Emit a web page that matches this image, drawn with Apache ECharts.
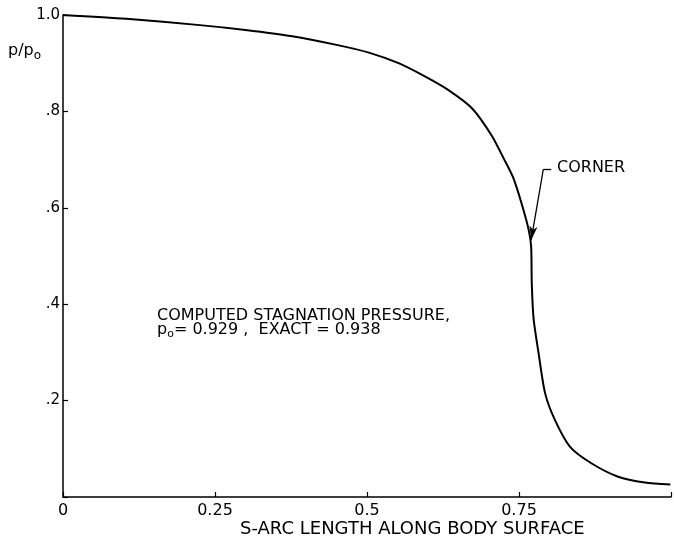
<!DOCTYPE html>
<html>
<head>
<meta charset="utf-8">
<script src="https://cdn.jsdelivr.net/npm/echarts@6/dist/echarts.min.js"></script>
<style>html,body{margin:0;padding:0;background:#fff;}#c{width:674px;height:546px;}</style>
</head>
<body>
<div id="c"></div>
<script>
// Data
const sArc = [0, 0.104, 0.225, 0.300, 0.377, 0.450, 0.503, 0.552, 0.596, 0.634, 0.673, 0.705, 0.725, 0.740, 0.754, 0.766, 0.770, 0.771, 0.774, 0.782, 0.793, 0.809, 0.834, 0.869, 0.913, 0.957, 0.999];
const pRatio = [1.0, 0.992, 0.979, 0.969, 0.956, 0.938, 0.922, 0.900, 0.872, 0.844, 0.806, 0.750, 0.702, 0.664, 0.610, 0.554, 0.519, 0.444, 0.370, 0.300, 0.215, 0.160, 0.104, 0.070, 0.042, 0.030, 0.026];
const xTickValues = [0, 0.25, 0.5, 0.75, 1.0];
const xTickLabels = ['0', '0.25', '0.5', '0.75', ''];
const yTickValues = [0, 0.2, 0.4, 0.6, 0.8, 1.0];
const yTickLabels = ['', '.2', '.4', '.6', '.8', '1.0'];
// Corner annotation leader (data coords)
const cornerLabelPt = [0.803, 0.680];
const cornerBendPt = [0.790, 0.680];
const cornerTipPt = [0.770, 0.533];

const FONT = 'DejaVu Sans';
const chart = echarts.init(document.getElementById('c'), null, {renderer: 'canvas'});
const data = sArc.map((x, i) => [x, pRatio[i]]);

function lab(values, labels) {
  return v => {
    const i = values.findIndex(t => Math.abs(t - v) < 1e-9);
    return i >= 0 ? labels[i] : '';
  };
}

chart.setOption({
  animation: false,
  backgroundColor: '#ffffff',
  grid: {left: 63, right: 1, top: 15, bottom: 49, containLabel: false},
  xAxis: {
    type: 'value', min: 0, max: 1, interval: 0.25,
    axisLine: {show: true, lineStyle: {color: '#000', width: 1.5}},
    axisTick: {show: true, inside: true, length: 5, lineStyle: {color: '#000', width: 1.2}},
    axisLabel: {show: true, formatter: lab(xTickValues, xTickLabels), color: '#000', fontFamily: FONT, fontSize: 16, margin: 6, showMaxLabel: true},
    splitLine: {show: false}
  },
  yAxis: {
    type: 'value', min: 0, max: 1, interval: 0.2,
    axisLine: {show: true, lineStyle: {color: '#000', width: 1.5}},
    axisTick: {show: true, inside: true, length: 5, lineStyle: {color: '#000', width: 1.2}},
    axisLabel: {show: true, formatter: lab(yTickValues, yTickLabels), color: '#000', fontFamily: FONT, fontSize: 15, margin: 3},
    splitLine: {show: false}
  },
  series: [{
    type: 'line',
    data: data,
    showSymbol: false,
    smooth: 0.25,
    lineStyle: {color: '#000', width: 2},
    markLine: {
      silent: true,
      animation: false,
      label: {show: false},
      lineStyle: {color: '#000', width: 1.3, type: 'solid'},
      data: [
        [{coord: cornerLabelPt, symbol: 'none'}, {coord: cornerBendPt, symbol: 'none'}],
        [{coord: cornerBendPt, symbol: 'none'}, {coord: cornerTipPt, symbol: 'arrow', symbolSize: [6, 14]}]
      ]
    }
  }],
  graphic: [
    {type: 'text', left: 8, top: 43, style: {
      text: '{a|p/p}{s|o}', fill: '#000',
      rich: {a: {fontFamily: FONT, fontSize: 16, fill: '#000'}, s: {fontFamily: FONT, fontSize: 12, fill: '#000', padding: [9, 0, 0, 0]}}
    }},
    {type: 'text', left: 557, top: 160, style: {text: 'CORNER', fontFamily: FONT, fontSize: 16, fill: '#000'}},
    {type: 'text', left: 157, top: 308, style: {text: 'COMPUTED STAGNATION PRESSURE,', fontFamily: FONT, fontSize: 16, fill: '#000'}},
    {type: 'text', left: 157, top: 322, style: {
      text: '{a|p}{s|o}{a|= 0.929 ,  EXACT = 0.938}', fill: '#000',
      rich: {a: {fontFamily: FONT, fontSize: 16, fill: '#000'}, s: {fontFamily: FONT, fontSize: 11, fill: '#000', padding: [8, 0, 0, 0]}}
    }},
    {type: 'text', left: 240, top: 520, style: {text: 'S-ARC LENGTH ALONG BODY SURFACE', fontFamily: FONT, fontSize: 18, fill: '#000'}}
  ]
});
</script>
</body>
</html>
